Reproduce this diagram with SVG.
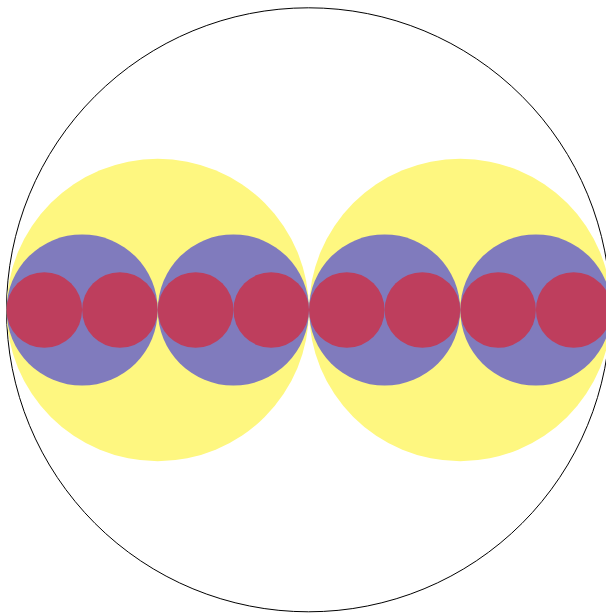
<svg xmlns="http://www.w3.org/2000/svg" width="606" height="613" viewBox="0 0 606 613">
<style>
.y{fill:#fef780}
.b{fill:#807bbd}
.r{fill:#be3e5d}
.o{fill:none;stroke:#000;stroke-width:1}
</style>
<rect width="606" height="613" fill="#fff"/>
<g id="outer"><circle class="o" cx="308.5" cy="309.8" r="302"/></g>
<g id="yellow">
<circle class="y" cx="157.75" cy="310" r="151.25"/>
<circle class="y" cx="460.25" cy="310" r="151.25"/>
</g>
<g id="blue">
<circle class="b" cx="82.1" cy="310" r="75.6"/>
<circle class="b" cx="233.4" cy="310" r="75.6"/>
<circle class="b" cx="384.6" cy="310" r="75.6"/>
<circle class="b" cx="535.9" cy="310" r="75.6"/>
</g>
<g id="red">
<circle class="r" cx="44.3" cy="310" r="37.8"/>
<circle class="r" cx="119.9" cy="310" r="37.8"/>
<circle class="r" cx="195.6" cy="310" r="37.8"/>
<circle class="r" cx="271.2" cy="310" r="37.8"/>
<circle class="r" cx="346.8" cy="310" r="37.8"/>
<circle class="r" cx="422.4" cy="310" r="37.8"/>
<circle class="r" cx="498.1" cy="310" r="37.8"/>
<circle class="r" cx="573.7" cy="310" r="37.8"/>
</g>
</svg>
